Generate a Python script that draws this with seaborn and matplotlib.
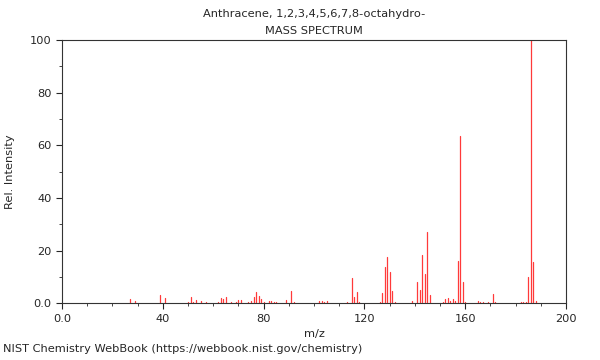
import pandas as pd
import matplotlib
matplotlib.use("Agg")
import matplotlib.pyplot as plt
import seaborn as sns
from matplotlib.ticker import MultipleLocator

# peak list (m/z, relative intensity)
mz = [27, 29, 39, 41, 50, 51, 52, 53, 55, 57, 62, 63, 64, 65, 67, 69, 70, 71,
      74, 75, 76, 77, 78, 79, 80, 82, 83, 84, 85, 87, 89, 91, 92, 102, 103,
      104, 105, 113, 115, 116, 117, 118, 126, 127, 128, 129, 130, 131, 132,
      139, 141, 142, 143, 144, 145, 146, 151, 152, 153, 154, 155, 156, 157,
      158, 159, 160, 165, 166, 167, 169, 171, 172, 182, 183, 184, 185, 186,
      187, 188]
intensity = [1.8, 1.1, 3.3, 2.1, 0.5, 2.6, 0.7, 1.3, 1.0, 0.5, 0.5, 2.2, 1.7,
             2.5, 0.5, 0.5, 1.3, 1.3, 0.5, 0.8, 2.4, 4.2, 3.0, 1.8, 0.5, 0.8,
             1.0, 0.5, 0.4, 0.3, 1.2, 4.9, 0.5, 0.9, 1.0, 0.5, 0.9, 0.4, 9.8,
             2.5, 4.5, 0.7, 0.5, 3.8, 14.0, 17.8, 12.1, 4.8, 0.5, 1.0, 8.1,
             5.1, 18.3, 11.0, 27.2, 3.4, 0.5, 1.6, 2.0, 1.1, 1.7, 0.8, 16.1,
             63.7, 8.3, 0.5, 0.9, 0.5, 0.5, 0.5, 3.6, 0.5, 0.7, 0.5, 0.5,
             10.1, 100.0, 15.6, 1.0]

x_ticks = [0, 40, 80, 120, 160, 200]
x_labels = ["0.0", "40", "80", "120", "160", "200"]
y_ticks = [0, 20, 40, 60, 80, 100]
y_labels = ["0.0", "20", "40", "60", "80", "100"]

title = "Anthracene, 1,2,3,4,5,6,7,8-octahydro-\nMASS SPECTRUM"
footer = "NIST Chemistry WebBook (https://webbook.nist.gov/chemistry)"

# each peak becomes a two-point vertical segment
rows = []
for m, i in zip(mz, intensity):
    rows.append({"mz": m, "y": 0.0})
    rows.append({"mz": m, "y": i})
df = pd.DataFrame(rows)

sns.set_style("ticks")
plt.rcParams["font.family"] = ["DejaVu Sans"]

fig = plt.figure(figsize=(6, 3.6), dpi=100)
ax = fig.add_axes([0.1033, 0.157, 0.84, 0.732])

sns.lineplot(data=df, x="mz", y="y", units="mz", estimator=None, sort=False,
             color="#ff3a3a", linewidth=0.9, ax=ax)

ax.set_xlim(0, 200)
ax.set_ylim(0, 100)
ax.set_xticks(x_ticks)
ax.set_xticklabels(x_labels)
ax.set_yticks(y_ticks)
ax.set_yticklabels(y_labels)
ax.xaxis.set_minor_locator(MultipleLocator(10))
ax.yaxis.set_minor_locator(MultipleLocator(10))
ax.tick_params(which="major", length=4, width=0.8, labelsize=8.2, direction="out")
ax.tick_params(which="minor", length=2.5, width=0.6, direction="out")
for s in ax.spines.values():
    s.set_visible(True)
    s.set_color("#333333")
    s.set_linewidth(0.8)

ax.set_xlabel("m/z", fontsize=8.2, labelpad=4)
ax.set_ylabel("Rel. Intensity", fontsize=8.2, labelpad=11)
ax.set_title(title, fontsize=8.2, linespacing=1.95, pad=4)
fig.text(0.005, 0.022, footer, fontsize=8.2, ha="left", va="baseline")

fig.savefig("out.png", dpi=100)
